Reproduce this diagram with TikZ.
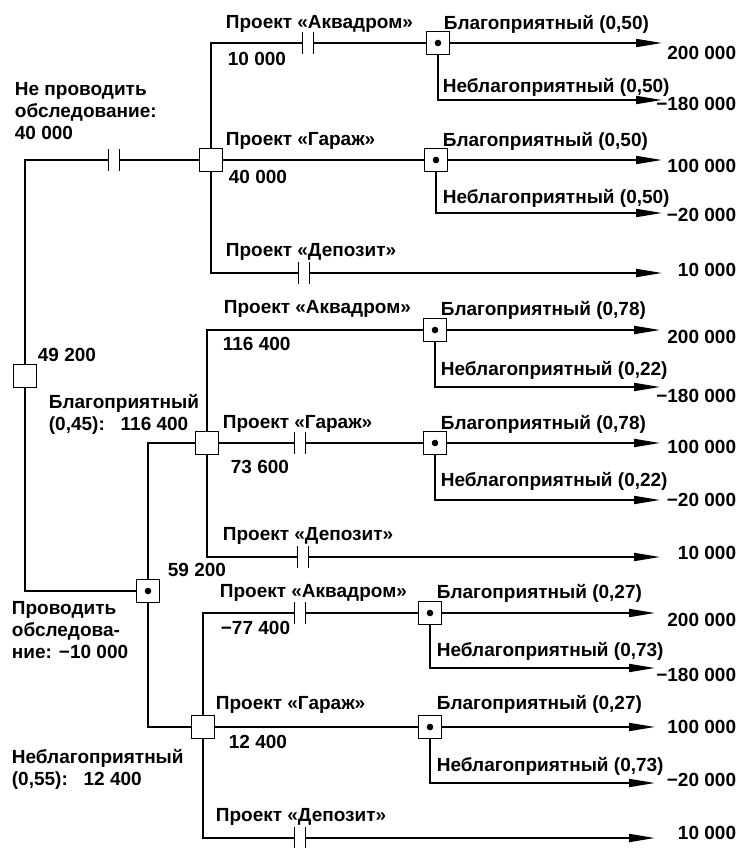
\documentclass[tikz,border=0pt]{standalone}
\usepackage{fontspec}
\setmainfont{Liberation Sans}
\usetikzlibrary{arrows.meta}

\begin{document}
\begin{tikzpicture}[
  x=1pt, y=-1pt,
  line width=1.8pt,
  every node/.style={font=\bfseries\fontsize{19}{22}\selectfont, inner sep=0pt},
  txt/.style={anchor=west},
  pay/.style={anchor=east},
  dec/.style={draw, fill=white, minimum size=23pt, line width=1.8pt},
  chance/.style={dec, path picture={\fill[black] (path picture bounding box.center) circle (3.3pt);}},
  tip/.style={-{Triangle[length=26pt,width=8pt]}},
  cut/.pic={\fill[white] (-5,-3) rectangle (5,3);
    \draw (-5.5,-11) -- (-5.5,11) (5.5,-11) -- (5.5,11);}
  ]

\useasboundingbox (0,0) rectangle (742,848);

\node[dec] (d0) at (25,376) {};
\node[dec] (d1) at (211,160) {};
\node[chance] (c0) at (148,591) {};
\node[dec] (d2) at (207,443) {};
\node[dec] (d3) at (203,727) {};
\node[chance] (ca1) at (438,43) {};
\node[chance] (cg1) at (436,160) {};
\node[chance] (ca2) at (435,330) {};
\node[chance] (cg2) at (435,443) {};
\node[chance] (ca3) at (430,613) {};
\node[chance] (cg3) at (430,727) {};

\coordinate (ea1) at (662,43);
\coordinate (na1) at (662,100);
\coordinate (eg1) at (662,160);
\coordinate (ng1) at (662,213);
\coordinate (ed1) at (662,273);
\coordinate (ea2) at (660,330);
\coordinate (na2) at (660,387);
\coordinate (eg2) at (660,443);
\coordinate (ng2) at (660,500);
\coordinate (ed2) at (660,557);
\coordinate (ea3) at (655,613);
\coordinate (na3) at (655,668);
\coordinate (eg3) at (655,727);
\coordinate (ng3) at (655,783);
\coordinate (ed3) at (655,838);

\draw (d0.north) |- (d1.west);
\draw (d0.south) |- (c0.west);
\draw (c0.north) |- (d2.west);
\draw (c0.south) |- (d3.west);

\draw (d1.north) |- (ca1.west);
\draw (d1.east) -- (cg1.west);
\draw[tip] (d1.south) |- (ed1);
\draw (d2.north) |- (ca2.west);
\draw (d2.east) -- (cg2.west);
\draw[tip] (d2.south) |- (ed2);
\draw (d3.north) |- (ca3.west);
\draw (d3.east) -- (cg3.west);
\draw[tip] (d3.south) |- (ed3);

\draw[tip] (ca1.east) -- (ea1);
\draw[tip] (ca1.south) |- (na1);
\draw[tip] (cg1.east) -- (eg1);
\draw[tip] (cg1.south) |- (ng1);
\draw[tip] (ca2.east) -- (ea2);
\draw[tip] (ca2.south) |- (na2);
\draw[tip] (cg2.east) -- (eg2);
\draw[tip] (cg2.south) |- (ng2);
\draw[tip] (ca3.east) -- (ea3);
\draw[tip] (ca3.south) |- (na3);
\draw[tip] (cg3.east) -- (eg3);
\draw[tip] (cg3.south) |- (ng3);

\pic at (114,160) {cut};
\pic at (308,43) {cut};
\pic at (304,273) {cut};
\pic at (300,443) {cut};
\pic at (303,557) {cut};
\pic at (300,613) {cut};
\pic at (300,838) {cut};

\node[anchor=north west, align=left] (l1) at (14,82) {Не проводить\\обследование:\\40 000};
\node[anchor=north west, align=left] (l2) at (11,601) {Проводить\\обследова-\\ние: −10 000};
\node[anchor=north west, align=left] (l3) at (48,393) {Благоприятный\\(0,45):\ \ \ 116 400};
\node[anchor=north west, align=left] (l4) at (11,748) {Неблагоприятный\\(0,55):\ \ \ 12 400};
\node[txt] (v0) at (37,355) {49 200};
\node[txt] (v1) at (167,570) {59 200};

\node[txt] (pa1) at (225,24) {Проект «Аквадром»};
\node[txt] (va1) at (227,59) {10 000};
\node[txt] (pg1) at (225,141) {Проект «Гараж»};
\node[txt] (vg1) at (228,177) {40 000};
\node[txt] (pd1) at (225,252) {Проект «Депозит»};
\node[txt] (pa2) at (223,309) {Проект «Аквадром»};
\node[txt] (va2) at (222,344) {116 400};
\node[txt] (pg2) at (222,424) {Проект «Гараж»};
\node[txt] (vg2) at (230,467) {73 600};
\node[txt] (pd2) at (222,536) {Проект «Депозит»};
\node[txt] (pa3) at (219,593) {Проект «Аквадром»};
\node[txt] (va3) at (220,628) {−77 400};
\node[txt] (pg3) at (215,705) {Проект «Гараж»};
\node[txt] (vg3) at (228,742) {12 400};
\node[txt] (pd3) at (215,817) {Проект «Депозит»};

\node[txt] (ba1) at (443,24) {Благоприятный (0,50)};
\node[txt] (na1l) at (442,87) {Неблагоприятный (0,50)};
\node[txt] (bg1) at (442,141) {Благоприятный (0,50)};
\node[txt] (ng1l) at (442,198) {Неблагоприятный (0,50)};
\node[txt] (ba2) at (440,310) {Благоприятный (0,78)};
\node[txt] (na2l) at (440,370) {Неблагоприятный (0,22)};
\node[txt] (bg2) at (440,424) {Благоприятный (0,78)};
\node[txt] (ng2l) at (440,481) {Неблагоприятный (0,22)};
\node[txt] (ba3) at (436,593) {Благоприятный (0,27)};
\node[txt] (na3l) at (436,651) {Неблагоприятный (0,73)};
\node[txt] (bg3) at (436,704) {Благоприятный (0,27)};
\node[txt] (ng3l) at (436,766) {Неблагоприятный (0,73)};

\node[pay] (ra1) at (737,53) {200 000};
\node[pay] (rn1) at (737,104) {−180 000};
\node[pay] (rg1) at (737,166) {100 000};
\node[pay] (rm1) at (737,215) {−20 000};
\node[pay] (rd1) at (737,270) {10 000};
\node[pay] (ra2) at (737,337) {200 000};
\node[pay] (rn2) at (737,396) {−180 000};
\node[pay] (rg2) at (737,447) {100 000};
\node[pay] (rm2) at (737,500) {−20 000};
\node[pay] (rd2) at (737,553) {10 000};
\node[pay] (ra3) at (737,620) {200 000};
\node[pay] (rn3) at (737,675) {−180 000};
\node[pay] (rg3) at (737,727) {100 000};
\node[pay] (rm3) at (737,780) {−20 000};
\node[pay] (rd3) at (737,833) {10 000};

\end{tikzpicture}
\end{document}
